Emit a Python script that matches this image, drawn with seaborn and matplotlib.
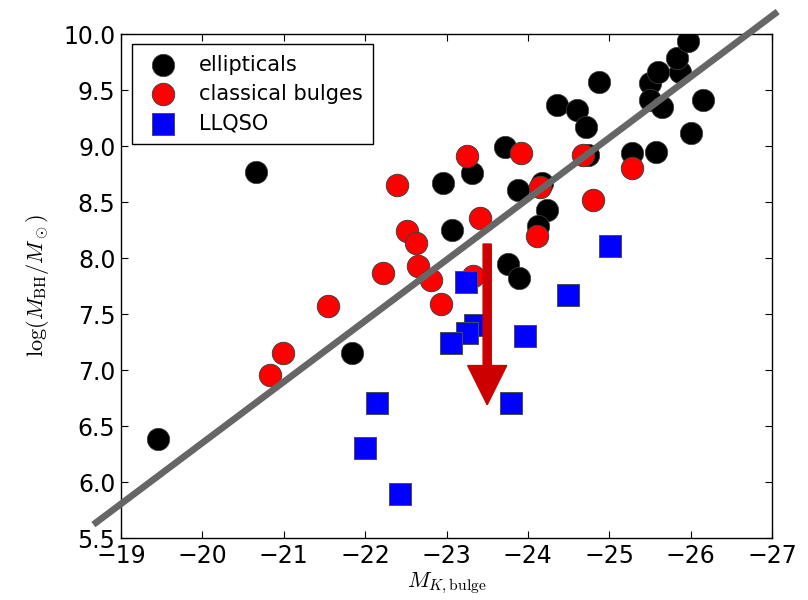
"""M_BH vs bulge K-band luminosity: ellipticals, classical bulges and LLQSOs."""
import matplotlib
matplotlib.use('Agg')
import matplotlib.pyplot as plt
import matplotlib.ticker as mticker
import pandas as pd
import seaborn as sns

# ellipticals
ELL_MK = [-19.45, -20.66, -21.84, -22.96, -23.07, -23.31, -23.72, -23.88,
          -24.17, -24.23, -24.12, -23.76, -23.89, -24.36, -24.60, -24.72,
          -24.87, -24.74, -25.28, -25.58, -26.01, -26.15, -25.50, -25.50,
          -25.65, -25.60, -25.87, -25.83, -25.97]
ELL_LOGM = [6.38, 8.77, 7.15, 8.67, 8.25, 8.76, 8.99, 8.61,
            8.67, 8.43, 8.29, 7.95, 7.82, 9.37, 9.32, 9.17,
            9.57, 8.92, 8.94, 8.95, 9.12, 9.41, 9.56, 9.41,
            9.35, 9.66, 9.66, 9.79, 9.94]

# classical bulges
BUL_MK = [-20.83, -20.99, -21.54, -22.22, -22.39, -22.51, -22.62, -22.65,
          -22.81, -22.93, -23.25, -23.32, -23.41, -23.91, -24.15, -24.11,
          -24.68, -24.80, -25.28]
BUL_LOGM = [6.96, 7.15, 7.57, 7.87, 8.65, 8.24, 8.13, 7.93,
            7.80, 7.59, 8.91, 7.84, 8.36, 8.94, 8.63, 8.20,
            8.92, 8.52, 8.80]

# LLQSO
QSO_MK = [-23.24, -23.35, -23.25, -23.05, -23.97, -22.14, -22.00, -22.43,
          -23.79, -25.01, -24.49]
QSO_LOGM = [7.79, 7.40, 7.33, 7.24, 7.30, 6.71, 6.30, 5.89,
            6.71, 8.11, 7.67]

# relation line end points
FIT_MK = [-18.66, -27.07]
FIT_LOGM = [5.62, 10.20]

# downward arrow
ARROW_MK = -23.5
ARROW_LOGM = [8.125, 6.69]


def main() -> None:
    sns.set_theme(style='ticks')
    plt.rcParams['font.family'] = ['DejaVu Sans']
    plt.rcParams['mathtext.fontset'] = 'cm'
    for key in ('text.color', 'axes.labelcolor', 'xtick.color',
                'ytick.color', 'axes.edgecolor'):
        plt.rcParams[key] = 'black'

    ell = pd.DataFrame({'MK': ELL_MK, 'logM': ELL_LOGM})
    bul = pd.DataFrame({'MK': BUL_MK, 'logM': BUL_LOGM})
    qso = pd.DataFrame({'MK': QSO_MK, 'logM': QSO_LOGM})

    fig = plt.figure(figsize=(8.08, 6.0), dpi=100)
    ax = fig.add_axes([0.1498, 0.1033, 0.8056, 0.84])

    sns.scatterplot(data=ell, x='MK', y='logM', color='black', marker='o',
                    s=260, edgecolor='0.25', linewidth=0.5,
                    label='ellipticals', ax=ax, zorder=2)
    sns.scatterplot(data=bul, x='MK', y='logM', color='red', marker='o',
                    s=260, edgecolor='0.25', linewidth=0.7,
                    label='classical bulges', ax=ax, zorder=3)
    sns.scatterplot(data=qso, x='MK', y='logM', color='blue', marker='s',
                    s=230, edgecolor='0.3', linewidth=0.7,
                    label='LLQSO', ax=ax, zorder=4)

    ax.plot(FIT_MK, FIT_LOGM, color='#666666', linewidth=4.8,
            solid_capstyle='butt', clip_on=False, zorder=5)

    ax.arrow(ARROW_MK, ARROW_LOGM[0], 0, ARROW_LOGM[1] - ARROW_LOGM[0],
             width=0.1, head_width=0.48, head_length=0.35,
             length_includes_head=True, color='#cc0000', zorder=6)

    ax.set_xlim(-19, -27)
    ax.set_ylim(5.5, 10.0)
    ax.xaxis.set_major_locator(mticker.MultipleLocator(1))
    ax.yaxis.set_major_locator(mticker.MultipleLocator(0.5))
    ax.yaxis.set_major_formatter(mticker.FormatStrFormatter('%.1f'))
    ax.tick_params(direction='in', top=True, right=True, length=5,
                   width=0.8, labelsize=17, color='black',
                   labelcolor='black', pad=4)
    for sp in ax.spines.values():
        sp.set_color('black')
        sp.set_linewidth(1.0)

    ax.set_xlabel(r'$M_{K,\rm bulge}$', fontsize=16, labelpad=2)
    ax.set_ylabel(r'$\log(M_{\rm BH}/M_\odot)$', fontsize=16, labelpad=9)

    leg = ax.legend(loc='upper left', bbox_to_anchor=(0.017, 0.98),
                    borderaxespad=0, fontsize=15, frameon=True,
                    fancybox=False, framealpha=1, edgecolor='black',
                    handletextpad=0.7, borderpad=0.5, labelspacing=0.45,
                    markerscale=1.0)
    leg.get_frame().set_linewidth(1.0)
    for txt in leg.get_texts():
        txt.set_color('black')

    fig.savefig('out.png', dpi=100)


if __name__ == '__main__':
    main()
